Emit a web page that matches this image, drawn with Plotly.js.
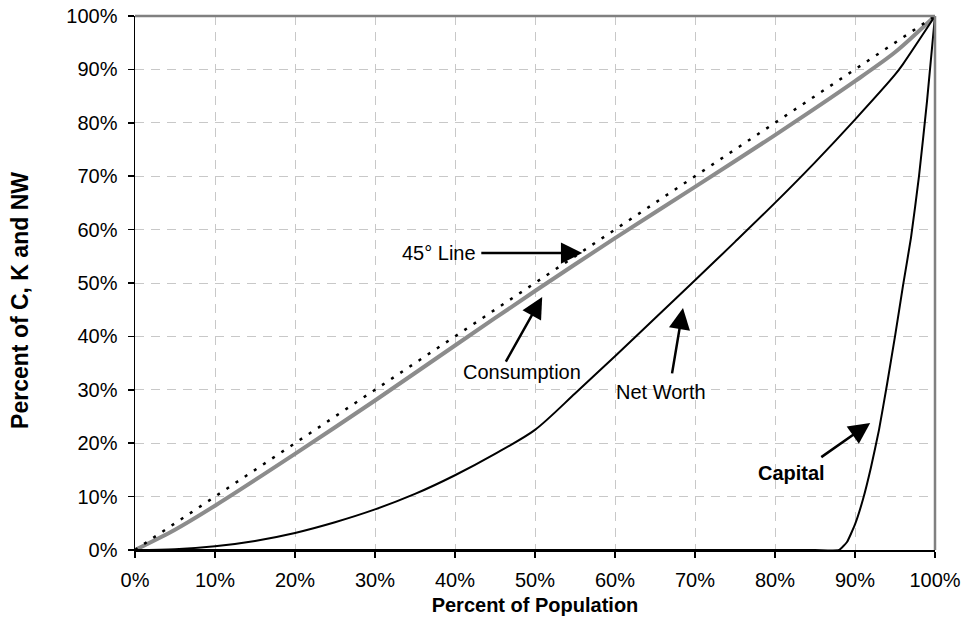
<!DOCTYPE html>
<html>
<head>
<meta charset="utf-8">
<script src="https://cdn.plot.ly/plotly-3.0.1.min.js"></script>
<style>html,body{margin:0;padding:0;background:#fff;}#chart{width:967px;height:637px;}</style>
</head>
<body>
<div id="chart"></div>
<script>
// Percent of population (x) and cumulative shares (y), in %
const lineX = [0, 100];
const lineY = [0, 100];

const consX = [0, 5, 10, 20, 30, 40, 50, 60, 70, 80, 90, 95, 100];
const consY = [0, 3.8, 8.3, 18, 28, 38.3, 48.5, 58.4, 68, 77.7, 87.8, 93.2, 100];

const nwX = [0, 5, 10, 15, 20, 25, 30, 35, 40, 45, 50, 55, 60, 65, 70, 75, 80, 85, 90, 95, 96, 100];
const nwY = [0, 0.15, 0.7, 1.7, 3.2, 5.2, 7.6, 10.5, 14, 18, 22.5, 29.3, 36.3, 43.4, 50.5, 57.7, 65, 72.6, 80.6, 89, 91, 100];

const capX = [0, 50, 85, 88, 89, 90, 91, 92, 93, 94, 95, 96, 97, 98, 99, 100];
const capY = [0, 0, 0, 0, 1.5, 4.8, 9.5, 15.5, 22.5, 31, 40, 49.5, 58.5, 70, 84, 100];

const xTickVals = [0, 10, 20, 30, 40, 50, 60, 70, 80, 90, 100];
const xTickText = ["0%", "10%", "20%", "30%", "40%", "50%", "60%", "70%", "80%", "90%", "100%"];
const yTickVals = [0, 10, 20, 30, 40, 50, 60, 70, 80, 90, 100];
const yTickText = ["0%", "10%", "20%", "30%", "40%", "50%", "60%", "70%", "80%", "90%", "100%"];

const labels = [
  {text: "45° Line", x: 38.0, y: 55.6, bold: false, tail: [43.1, 55.6], tip: [55.9, 55.6]},
  {text: "Consumption", x: 48.4, y: 33.3, bold: false, tail: [46.25, 35.0], tip: [50.9, 47.4]},
  {text: "Net Worth", x: 65.75, y: 29.6, bold: false, tail: [67.1, 32.8], tip: [68.5, 45.3]},
  {text: "Capital", x: 82.1, y: 14.4, bold: true, tail: [85.6, 17.2], tip: [91.9, 23.8]}
];

const FONT = "Liberation Sans, Arial, sans-serif";

const traces = [
  {x: consX, y: consY, mode: "lines", line: {color: "#8c8c8c", width: 4, shape: "spline", smoothing: 0.8}, hoverinfo: "skip"},
  {x: lineX, y: lineY, mode: "lines", line: {color: "#000", width: 2.5, dash: "3px,8px"}, hoverinfo: "skip"},
  {x: nwX, y: nwY, mode: "lines", line: {color: "#000", width: 2, shape: "spline", smoothing: 0.8}, hoverinfo: "skip"},
  {x: capX, y: capY, mode: "lines", line: {color: "#000", width: 2, shape: "spline", smoothing: 0.4}, hoverinfo: "skip"}
];

const annotations = [];
labels.forEach(l => {
  annotations.push({
    x: l.x, y: l.y, xref: "x", yref: "y", showarrow: false,
    text: l.bold ? "<b>" + l.text + "</b>" : l.text,
    font: {family: FONT, size: 20, color: "#000"}
  });
  annotations.push({
    x: l.tip[0], y: l.tip[1], ax: l.tail[0], ay: l.tail[1],
    xref: "x", yref: "y", axref: "x", ayref: "y",
    text: "", showarrow: true, arrowhead: 2, arrowsize: 1.7, arrowwidth: 2.5, arrowcolor: "#000"
  });
});
annotations.push({
  xref: "paper", yref: "paper", x: -0.144, y: 0.468, xanchor: "center", yanchor: "middle",
  textangle: -90, showarrow: false,
  text: "<b>Percent of C, K and NW</b>", font: {family: FONT, size: 23, color: "#000"}
});

const layout = {
  width: 967, height: 637,
  margin: {l: 135, r: 32, t: 16, b: 87},
  paper_bgcolor: "#fff", plot_bgcolor: "#fff",
  showlegend: false,
  font: {family: FONT, size: 20, color: "#000"},
  xaxis: {
    range: [0, 100], tickmode: "array", tickvals: xTickVals, ticktext: xTickText,
    showgrid: true, gridcolor: "#c8c8c8", griddash: "9px,7px", gridwidth: 1,
    zeroline: false, showline: true, linecolor: "#000", linewidth: 1.5,
    ticks: "outside", ticklen: 6, tickcolor: "#000", tickwidth: 1.5,
    ticklabelstandoff: 5, tickfont: {family: FONT, size: 20},
    title: {text: "<b>Percent of Population</b>", font: {family: FONT, size: 20}, standoff: 8}
  },
  yaxis: {
    range: [0, 100], tickmode: "array", tickvals: yTickVals, ticktext: yTickText,
    showgrid: true, gridcolor: "#c8c8c8", griddash: "9px,7px", gridwidth: 1,
    zeroline: false, showline: true, linecolor: "#000", linewidth: 1.5,
    ticks: "outside", ticklen: 6, tickcolor: "#000", tickwidth: 1.5,
    ticklabelstandoff: 6, tickfont: {family: FONT, size: 20}
  },
  shapes: [
    {type: "line", xref: "paper", yref: "paper", x0: 0, x1: 1, y0: 1, y1: 1, line: {color: "#808080", width: 2.5}},
    {type: "line", xref: "paper", yref: "paper", x0: 1, x1: 1, y0: 0, y1: 1, line: {color: "#808080", width: 2.5}}
  ],
  annotations: annotations
};

Plotly.newPlot("chart", traces, layout, {displayModeBar: false, staticPlot: true});
</script>
</body>
</html>
